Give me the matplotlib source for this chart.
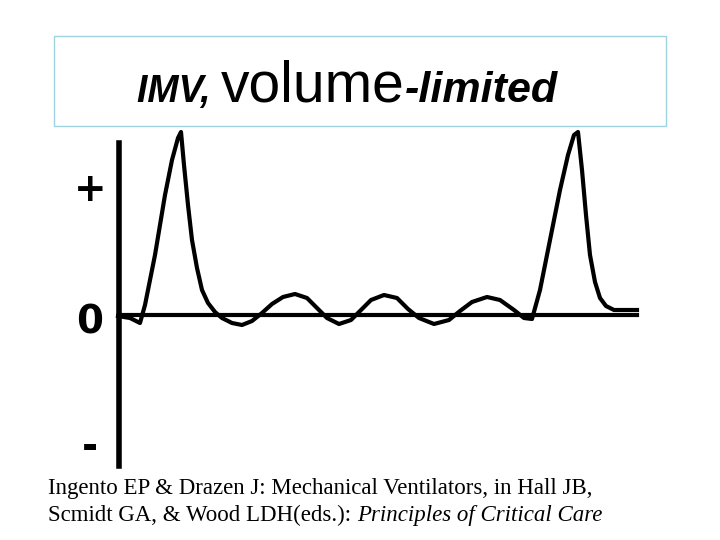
import matplotlib
matplotlib.use("Agg")
import matplotlib.pyplot as plt
from matplotlib.patches import Rectangle

# pressure trace (x px, y px; baseline at y=315)
trace_x = [118, 130, 140, 145, 155, 165, 172, 178, 181, 184, 188, 192, 197, 202, 208, 215,
           222, 232, 242, 252, 262, 272, 283, 295, 307, 317, 327, 339, 351, 361, 371, 384,
           397, 408, 419, 434, 449, 460, 472, 487, 500, 514, 524, 532, 540, 550, 560, 568,
           574, 578, 582, 586, 590, 595, 600, 606, 614, 637]
trace_y = [316, 318, 323, 305, 255, 195, 160, 138, 132, 165, 205, 240, 268, 290, 303, 312,
           318, 323, 325, 321, 313, 304, 297, 294, 298, 308, 318, 324, 320, 310, 300, 295,
           298, 309, 318, 324, 320, 311, 302, 297, 300, 310, 318, 319, 290, 240, 190, 155,
           135, 132, 170, 215, 255, 282, 298, 306, 310, 310]
tick_labels = ["+", "0", "-"]
tick_y = [190, 322, 448]

fig = plt.figure(figsize=(7.2, 5.4), dpi=100)
ax = fig.add_axes([0, 0, 1, 1])
ax.set_xlim(0, 720)
ax.set_ylim(540, 0)
ax.axis("off")

ax.add_patch(Rectangle((54, 36), 612, 90, fill=False, edgecolor="#9fd3e0", lw=1))

r = fig.canvas.get_renderer()


def chain(x, y, parts, family):
    for s, size, style, weight in parts:
        t = ax.text(x, y, s, fontsize=size, style=style, weight=weight,
                    family=family, va="baseline", ha="left")
        bb = t.get_window_extent(renderer=r)
        x += bb.width


chain(137, 102, [("IMV, ", 27, "italic", "bold"), ("volume", 41, "normal", "normal"),
                 ("-limited", 31, "italic", "bold")], "Liberation Sans")

ax.plot([119, 119], [143, 466], color="black", lw=4)
ax.plot([119, 637], [315, 315], color="black", lw=3)
ax.plot(trace_x, trace_y, color="black", lw=3)
for lab, y in zip(tick_labels, tick_y):
    ax.text(90, y, lab, fontsize=28, weight="bold", family="Liberation Sans Narrow",
            ha="center", va="center")

chain(48, 494, [("Ingento EP & Drazen J: Mechanical Ventilators, in Hall JB,", 16.5, "normal", "normal")],
      "Liberation Serif")
chain(48, 521, [("Scmidt GA, & Wood LDH(eds.): ", 16.5, "normal", "normal"),
                ("Principles of Critical Care", 16.5, "italic", "normal")], "Liberation Serif")

fig.savefig("out.png", dpi=100)
